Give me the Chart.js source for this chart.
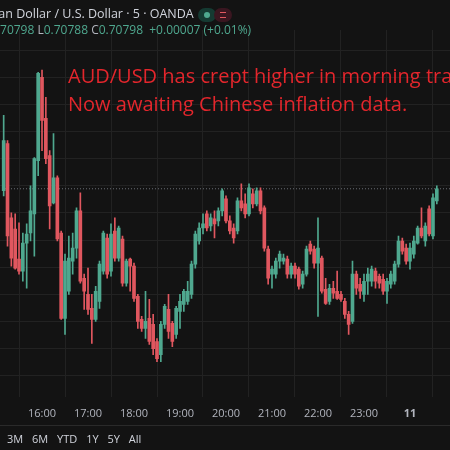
<!DOCTYPE html>
<html><head><meta charset="utf-8">
<script src="https://cdn.jsdelivr.net/npm/chart.js@4/dist/chart.umd.min.js"></script>
<style>
html,body{margin:0;padding:0;background:#131313;overflow:hidden;width:450px;height:450px;font-family:"Open Sans","Noto Sans",sans-serif}
#wrap{position:absolute;left:0;top:0;width:450px;height:430px}
.abs{position:absolute;white-space:nowrap}
#h1{left:-46px;top:5px;font-size:12.5px;color:#d1d4dc}
#h2{left:-10px;top:21px;font-size:12px;color:#4fa88f}
#h2 span{color:#b2b5be}
#note{left:68px;top:62px;font-size:20px;color:#e3262c;line-height:28px}
#sep{left:0;top:425px;width:450px;height:1px;background:#2a2a2a}
#tb{left:7px;top:431px;font-size:11px;color:#d1d4dc;word-spacing:6px}
.dot{position:absolute;top:8px;width:18px;height:14px;border-radius:7px}
</style></head><body>
<div id="wrap"><canvas id="c"></canvas></div>
<div class="abs" id="h1">Australian Dollar / U.S. Dollar · 5 · OANDA</div>
<div class="dot" style="left:198px;background:#153a32"><div style="width:6px;height:6px;border-radius:3px;background:#4fa88f;margin:4px 6px"></div></div>
<div class="dot" style="left:214px;background:#3a1620"><div style="width:6px;height:4px;border-top:1px solid #e0575f;border-bottom:1px solid #e0575f;margin:4px 6px"></div></div>
<div class="abs" id="h2">0.70798 <span>L</span>0.70788 <span>C</span>0.70798 &nbsp;+0.00007 (+0.01%)</div>
<div class="abs" id="note">AUD/USD has crept higher in morning trading.<br>Now awaiting Chinese inflation data.</div>
<div class="abs" id="sep"></div>
<div class="abs" id="tb">3M 6M YTD 1Y 5Y All</div>
<script>
// Prices in points above 0.70586 (1 point = 0.00001), 5-minute candles
const minutes = [];
const open  = [210,257,183,172,142,130,158,168,187,240,323,282,245,198,223,168,83,110,140,153,190,123,107,93,82,100,130,163,130,170,143,162,118,142,135,105,82,73,83,77,60,47,77,92,78,67,90,97,100,107,137,160,173,187,175,182,180,190,202,180,173,170,200,197,187,207,197,210,193,152,127,127,140,140,142,127,135,132,117,127,157,152,138,143,112,100,113,110,107,100,87,80,127,117,107,120,120,130,125,122,110,117,120,137,160,153,140,147,158,173,160,192,165,200];
const high  = [285,260,188,187,178,168,177,215,243,328,330,303,250,267,225,170,147,165,168,193,208,127,133,107,115,140,170,167,177,183,175,165,142,143,138,107,85,110,102,87,63,80,97,107,80,95,107,112,120,140,170,178,187,190,187,190,193,212,205,185,177,203,217,207,217,212,213,213,195,155,135,143,150,147,145,138,138,134,130,155,160,155,183,145,123,117,120,130,110,103,90,140,130,123,127,133,135,133,127,127,123,130,140,165,163,157,158,165,175,193,178,195,207,215];
const low   = [205,155,135,132,127,120,113,160,145,225,250,237,172,197,160,82,67,107,127,143,118,92,87,58,80,93,127,123,125,140,140,115,115,110,100,73,70,63,57,47,40,40,73,63,55,63,73,90,97,103,133,157,167,170,170,163,175,185,178,167,158,167,190,183,185,193,195,187,150,117,113,123,133,137,123,123,123,112,113,125,147,133,85,108,97,97,103,102,100,83,67,78,107,103,100,107,115,113,113,107,98,113,117,134,147,137,132,143,157,163,155,165,162,197];
const close = [260,165,143,133,130,158,167,190,242,327,280,242,195,223,162,83,140,143,153,190,120,110,92,82,110,137,168,127,167,143,173,118,140,135,103,80,73,80,60,53,43,77,95,70,60,93,100,110,110,137,167,173,177,173,183,177,190,210,180,170,163,200,193,187,213,197,210,190,153,123,132,140,147,143,127,135,127,115,127,152,150,138,153,110,98,113,108,103,102,87,77,127,113,110,120,127,132,120,118,110,120,127,137,160,150,140,153,160,173,165,175,167,203,212];
for (let i = 0; i < open.length; i++) minutes.push(10 + 5 * i);
const lastPrice = 212;
const gridLevels = [26,53,80,107,134,161,188,215,242,269,296,323,350];
const hourTicks = [60,120,180,240,300,360,420,480,540];

const UP = '#4fa88f', DN = '#e0575f';
const cols = open.map((o, i) => close[i] >= o ? UP : DN);
const wicks = minutes.map((t, i) => ({x: t, y: [low[i], high[i]]}));
const bodies = minutes.map((t, i) => ({x: t, y: [open[i], close[i]]}));

new Chart(document.getElementById('c'), {
  data: {
    datasets: [
      {type: 'bar', data: wicks, backgroundColor: cols, barThickness: 1, grouped: false, order: 2},
      {type: 'bar', data: bodies, backgroundColor: cols, barThickness: 3, grouped: false, minBarLength: 1, order: 1},
      {type: 'line', data: [{x: 0, y: lastPrice}, {x: 600, y: lastPrice}], borderColor: '#6a6d74', borderWidth: 1, borderDash: [1, 2], pointRadius: 0, order: 3}
    ]
  },
  options: {
    responsive: true, maintainAspectRatio: false, animation: false,
    layout: {padding: {top: 30, left: 0, right: 0, bottom: 0}},
    plugins: {legend: {display: false}, tooltip: {enabled: false}},
    scales: {
      x: {
        type: 'linear', min: 5.2, max: 592.2, offset: false,
        afterBuildTicks: s => { s.ticks = hourTicks.map(v => ({value: v})); },
        grid: {color: '#222222', drawTicks: false},
        border: {display: false},
        ticks: {
          color: '#b2b5be', padding: 10, maxRotation: 0, autoSkip: false,
          font: c => ({family: 'Open Sans', size: 11, weight: c.tick && c.tick.value === 540 ? 'bold' : 'normal'}),
          callback: v => { const h = 15 + v / 60; if (h === 24) return '11'; return (h > 24 ? '0' + (h - 24) : h) + ':00'; }
        }
      },
      y: {
        display: true, min: 5, max: 370,
        afterBuildTicks: s => { s.ticks = gridLevels.map(v => ({value: v})); },
        grid: {color: '#222222', drawTicks: false},
        border: {display: false},
        ticks: {display: false}
      }
    }
  }
});
</script>
</body></html>
